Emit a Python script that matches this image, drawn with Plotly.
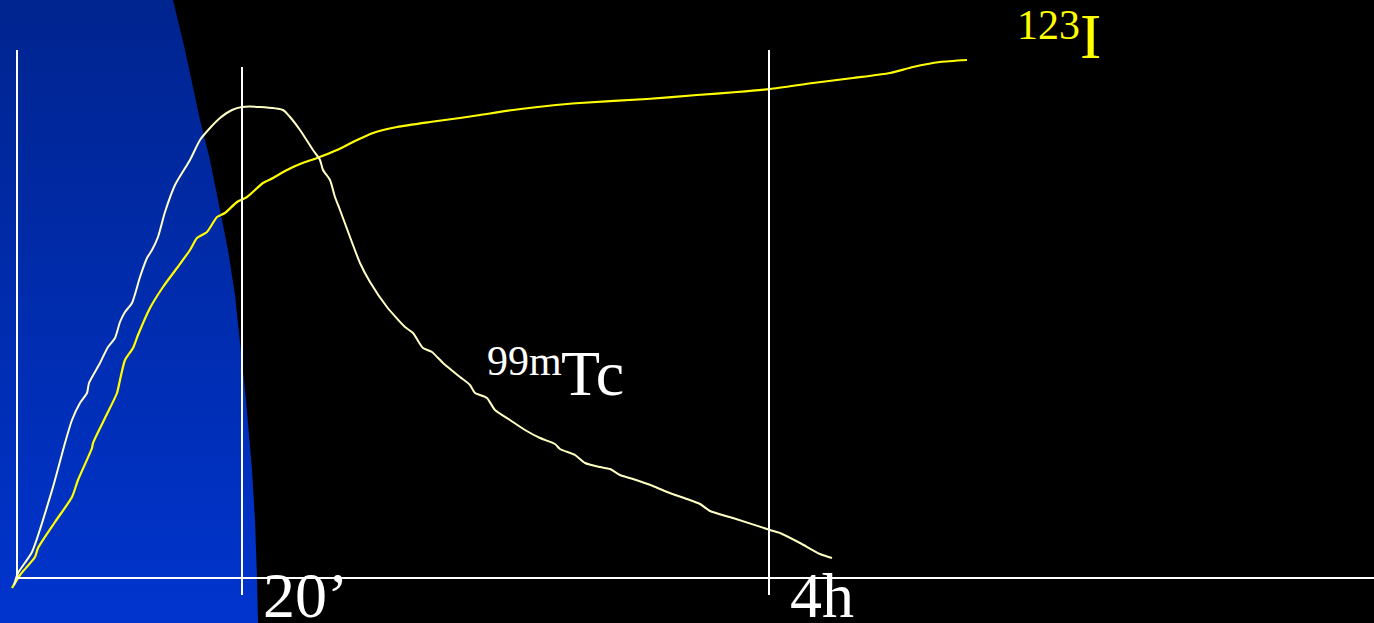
import plotly.graph_objects as go

# Relative time / activity units (origin at axis crossing)
tc_time = [-3, 1, 15, 36, 48, 55, 63, 70, 72, 83, 91, 98, 103, 108, 115, 123, 130, 135, 141, 148, 158, 173,
           183, 193, 203, 215, 225, 243, 266, 273, 283, 296, 303, 306, 313, 318, 323, 333, 343, 353, 370,
           388, 396, 406, 415, 426, 443, 453, 458, 463, 470, 478, 493, 508, 523, 538, 543, 558, 568, 583,
           593, 603, 616, 636, 650, 670, 683, 693, 716, 753, 763, 783, 803, 815]
tc_activity = [-7, 5, 26, 91, 135, 158, 175, 185, 195, 215, 231, 240, 256, 266, 275, 301, 320, 328, 341, 366,
               393, 418, 438, 450, 460, 468, 471, 471, 468, 461, 448, 428, 418, 408, 398, 381, 368, 341, 315,
               296, 271, 251, 245, 230, 226, 215, 201, 193, 185, 183, 180, 168, 158, 148, 140, 134, 129, 123,
               115, 111, 109, 103, 99, 92, 86, 79, 74, 67, 60, 48, 45, 35, 24, 20]

i_time = [-5, 3, 18, 21, 38, 55, 61, 75, 76, 88, 100, 103, 108, 116, 121, 133, 146, 160, 173, 180, 190, 200,
          208, 220, 230, 246, 256, 270, 283, 300, 320, 336, 356, 380, 413, 443, 463, 496, 530, 563, 630, 680,
          720, 753, 796, 836, 873, 896, 923, 950]
i_activity = [-10, 3, 21, 30, 56, 81, 98, 130, 135, 160, 185, 198, 218, 230, 243, 270, 291, 310, 328, 340, 346,
              361, 365, 376, 381, 395, 400, 408, 414, 420, 428, 436, 445, 451, 456, 460, 463, 468, 472, 475,
              479, 483, 486, 489, 495, 500, 505, 511, 516, 518]

# Time markers
marker_times = [225, 752]
marker_labels = ["20\u2019", "4h"]

# Decorative background band (left)
band_x = [-17, 156, 168, 183, 193, 201, 211, 218, 223, 229, 235, 238, 240, 241, -17]
band_y = [578, 578, 528, 458, 418, 378, 328, 283, 238, 178, 108, 58, 0, -45, -45]

fig = go.Figure()

fig.add_trace(go.Scatter(
    x=band_x, y=band_y, mode="lines", fill="toself",
    line=dict(width=0, color="rgba(0,0,0,0)"),
    fillgradient=dict(type="vertical", colorscale=[[0, "#0034CD"], [1, "#00248F"]]),
    hoverinfo="skip", showlegend=False))

# axes
fig.add_shape(type="line", x0=0, x1=0, y0=0, y1=528, line=dict(color="white", width=2))
fig.add_shape(type="line", x0=0, x1=1357, y0=0, y1=0, line=dict(color="white", width=2))
for t, top in zip(marker_times, [511, 528]):
    fig.add_shape(type="line", x0=t, x1=t, y0=-17, y1=top, line=dict(color="white", width=2))

fig.add_trace(go.Scatter(x=i_time, y=i_activity, mode="lines",
                         line=dict(color="#FFFF00", width=2.2, shape="spline", smoothing=0.6),
                         showlegend=False))
fig.add_trace(go.Scatter(x=tc_time, y=tc_activity, mode="lines",
                         line=dict(color="#FFFFC4", width=2, shape="spline", smoothing=0.6),
                         showlegend=False))

serif = "Liberation Serif, Times New Roman, serif"
big = 64
small = 42

def label(x, y_base, text, size, color):
    # y_base: baseline in data units; convert to middle of text box
    fig.add_annotation(x=x, y=y_base + 0.3375 * size, text=text, showarrow=False,
                       xanchor="left", yanchor="middle",
                       font=dict(family=serif, size=size, color=color))

label(1061, 578 - 58, "I", big, "#FFFF00")
label(998, 578 - 39, "123", small, "#FFFF00")
label(542, 578 - 395, "Tc", big, "white")
label(468, 578 - 375, "99m", small, "white")
for t, lab in zip(marker_times, marker_labels):
    label(t + 19, 578 - 617, lab, big, "white")

fig.update_layout(
    width=1374, height=623, margin=dict(l=0, r=0, t=0, b=0),
    paper_bgcolor="black", plot_bgcolor="black",
    xaxis=dict(range=[-17, 1357], visible=False, fixedrange=True),
    yaxis=dict(range=[-45, 578], visible=False, fixedrange=True),
    showlegend=False,
)

fig.write_html("out.html", config={"displayModeBar": False},
               post_script="document.body.style.margin='0';document.body.style.background='black';document.body.style.overflow='hidden';")
